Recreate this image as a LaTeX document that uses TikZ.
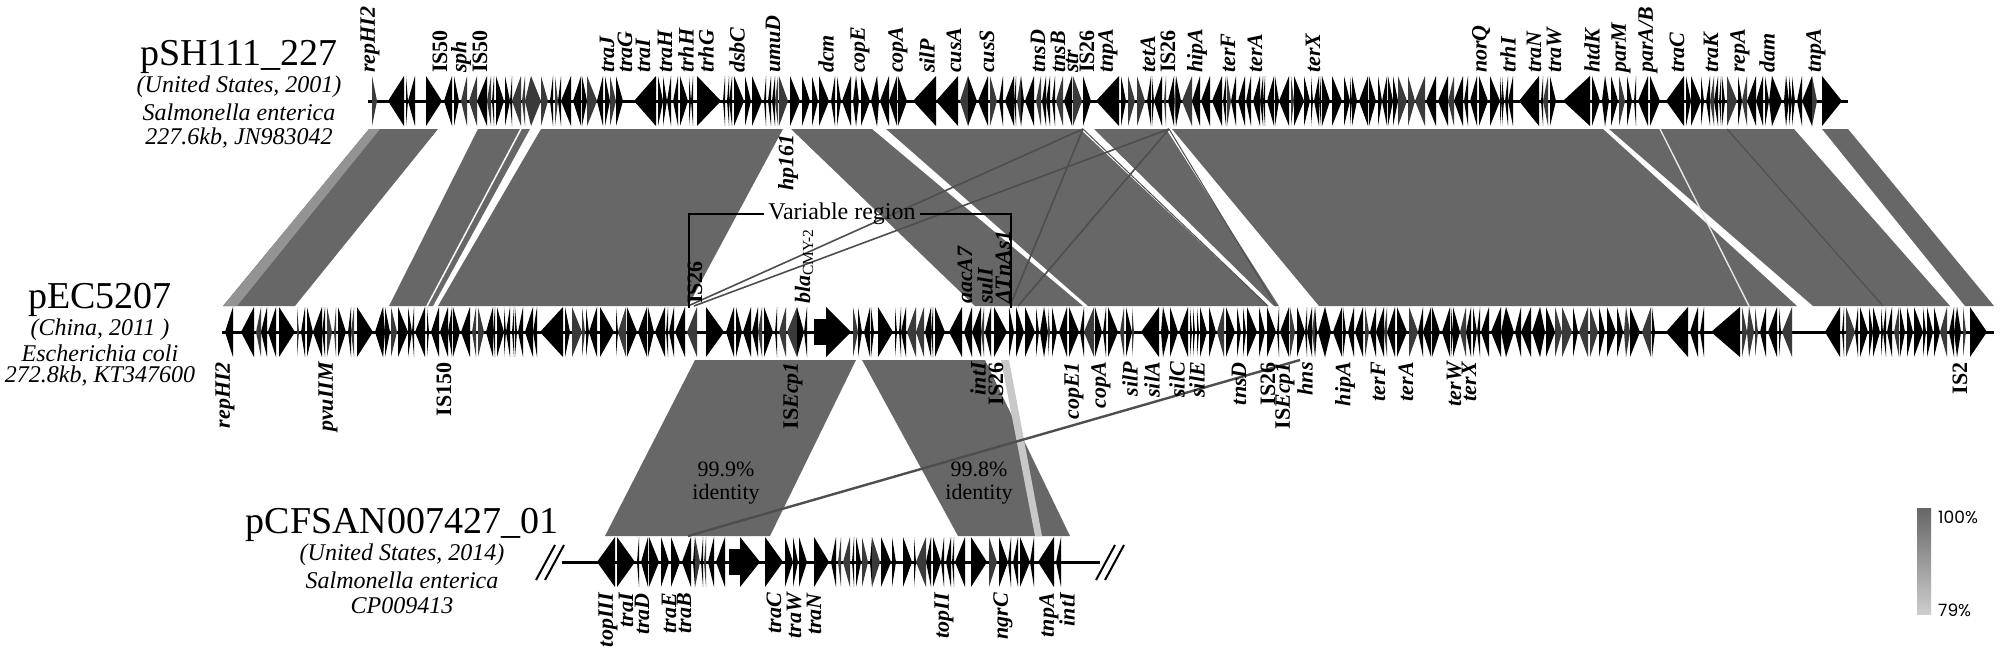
\documentclass[tikz,border=0pt]{standalone}
\usepackage{fontspec}
\setmainfont{Liberation Serif}
\newfontfamily\legendfont{Poppins}
\definecolor{bandc}{HTML}{676767}
\definecolor{bandlight}{HTML}{939393}
\definecolor{stripc}{HTML}{C8C8C8}
\definecolor{xlc}{HTML}{4E4E4E}
\definecolor{legtop}{HTML}{666666}
\definecolor{legbot}{HTML}{CDCDCD}
\definecolor{genegray}{HTML}{3A3A3A}
\newdimen\gspx
\newdimen\gspe
\newcommand\genespikes[4]{%
  \pgfmathsetseed{#4}%
  \gspx=#2pt\relax
  \loop
    \pgfmathrandominteger{\gspw}{2}{10}%
    \pgfmathrandominteger{\gspd}{0}{1}%
    \pgfmathrandominteger{\gspg}{0}{2}%
    \pgfmathrandominteger{\gspc}{0}{4}%
    \gspe=\gspx\advance\gspe by \gspw pt\relax
  \ifdim\gspe<#3pt\relax
    \pgfmathsetmacro\gxa{\gspx}%
    \pgfmathsetmacro\gxb{\gspe}%
    \ifnum\gspc=0\relax\def\gcol{genegray}\else\def\gcol{black}\fi
    \ifnum\gspd=1\relax
      \fill[\gcol] (\gxa,#1-25) -- (\gxb,#1) -- (\gxa,#1+25) -- cycle;
    \else
      \fill[\gcol] (\gxb,#1-25) -- (\gxa,#1) -- (\gxb,#1+25) -- cycle;
    \fi
    \gspx=\gspe\advance\gspx by \gspg pt\relax
  \repeat}
\newcommand\garR[3]{\fill[gene] (#2,#1-25) -- (#3,#1) -- (#2,#1+25) -- cycle;}
\newcommand\garL[3]{\fill[gene] (#3,#1-25) -- (#2,#1) -- (#3,#1+25) -- cycle;}
\newcommand\gblock[4]{\fill[gene] (#2,#1-13) rectangle (#3+2,#1+13); \fill[gene] (#3,#1-25) -- (#4,#1) -- (#3,#1+25) -- cycle;}
\newcommand\bandTM[4]{\fill[bandc] (#1,129) -- (#2,129) -- (#4,306) -- (#3,306) -- cycle;}
\newcommand\bandMB[4]{\fill[bandc] (#1,360) -- (#2,360) -- (#4,536) -- (#3,536) -- cycle;}
\begin{document}
\begin{tikzpicture}[x=1pt,y=-1pt,
  gene/.style={fill=black},
  axisline/.style={draw=black,line width=3pt},
  xl/.style={draw=xlc,line width=1.6pt},
  glab/.style={font=\fontsize{22}{22}\selectfont\bfseries\itshape,rotate=90,inner sep=0pt},
  tlab/.style={glab,anchor=west},
  blab/.style={glab,anchor=east},
  ttl/.style={font=\fontsize{38}{38}\selectfont,inner sep=0pt},
  sub/.style={font=\fontsize{24}{24}\selectfont\itshape,inner sep=0pt},
  idl/.style={font=\fontsize{22}{23}\selectfont,align=center,inner sep=0pt},
  leg/.style={font=\legendfont\fontsize{17}{17}\selectfont,inner sep=0pt,anchor=west}]
\useasboundingbox (0,0) rectangle (2000,653);
\fill[white] (0,0) rectangle (2000,653);

% ---------- bands between top and middle ----------
\bandTM{369}{438}{223}{295}
\fill[bandlight] (369,129) -- (380,129) -- (237,306) -- (223,306) -- cycle;
\bandTM{478}{530}{389}{433}
\draw[white,line width=1.5pt] (521,129) -- (427,306);
\bandTM{541}{783}{438}{688}
\bandTM{791}{872}{975}{1083}
\bandTM{886}{1080}{1088}{1268}
\bandTM{1094}{1166}{1274}{1279}
\bandTM{1172}{1603}{1319}{1797}
\bandTM{1609}{1794}{1813}{1950}
\bandTM{1822}{1848}{1965}{1994}
\draw[white!80!gray,line width=1.4pt] (1660,129) -- (1749,306);
\draw[xlc,line width=1pt] (1727,129) -- (1883,306);
\draw[xl] (688,306) -- (1083,129);
\draw[xl] (694,306) -- (1169,129);
\draw[xl] (1010,306) -- (1083,129);
\draw[xl] (1018,306) -- (1169,129);
\draw[xl,line width=1pt] (1083,129) -- (1268,306);
\draw[xl,line width=1pt] (1169,129) -- (1276,306);

% ---------- bands between middle and bottom ----------
\bandMB{695}{856}{605}{770}
\bandMB{862}{985}{958}{1070}
\fill[stripc] (1001,360) -- (1009,360) -- (1042,536) -- (1035,536) -- cycle;
\draw[xl,line width=2.4pt] (688,536) -- (1300,360);

% ---------- top track ----------
\draw[axisline] (368,101) -- (1848,101);
\genespikes{101}{372}{386}{11}\garL{101}{388}{404}
\genespikes{101}{406}{424}{12}\garR{101}{426}{442}
\genespikes{101}{444}{632}{13}\garL{101}{634}{656}
\genespikes{101}{658}{695}{14}\garR{101}{697}{721}
\genespikes{101}{723}{911}{15}\garL{101}{913}{936}\garL{101}{936}{958}
\genespikes{101}{960}{1094}{16}\garL{101}{1096}{1119}
\genespikes{101}{1121}{1517}{17}\garL{101}{1519}{1539}
\genespikes{101}{1541}{1561}{18}\garL{101}{1563}{1590}
\genespikes{101}{1592}{1664}{19}\garL{101}{1666}{1684}
\genespikes{101}{1686}{1820}{20}\garR{101}{1822}{1842}

% ---------- middle track ----------
\draw[axisline] (222,332) -- (1994,332);
\genespikes{332}{225}{239}{31}\garL{332}{241}{254}
\genespikes{332}{256}{277}{32}\garR{332}{279}{295}
\genespikes{332}{297}{355}{33}\garR{332}{357}{373}
\genespikes{332}{375}{538}{34}\garL{332}{540}{563}
\genespikes{332}{565}{598}{35}\garR{332}{600}{614}
\genespikes{332}{616}{704}{36}\garR{332}{706}{724}
\genespikes{332}{726}{812}{37}\gblock{332}{814}{826}{851}
\genespikes{332}{853}{876}{38}\garR{332}{878}{893}
\genespikes{332}{895}{947}{39}\garL{332}{949}{962}
\genespikes{332}{964}{992}{40}\garR{332}{994}{1007}
\genespikes{332}{1009}{1139}{41}\garL{332}{1141}{1159}
\genespikes{332}{1161}{1664}{42}\garL{332}{1666}{1688}
\genespikes{332}{1690}{1709}{43}\garL{332}{1711}{1740}
\genespikes{332}{1742}{1798}{44}\garL{332}{1825}{1840}
\genespikes{332}{1842}{1968}{45}\garR{332}{1970}{1987}

% ---------- bottom track ----------
\draw[axisline] (562,562) -- (1100,562);
\draw[black,line width=2pt] (536,580) -- (555,545);
\draw[black,line width=2pt] (545,580) -- (564,545);
\draw[black,line width=2pt] (1096,580) -- (1115,545);
\draw[black,line width=2pt] (1105,580) -- (1124,545);
\garL{562}{597}{615}\garR{562}{617}{635}
\genespikes{562}{637}{727}{51}\gblock{562}{729}{740}{760}
\garR{562}{765}{783}
\genespikes{562}{785}{812}{52}\garR{562}{814}{829}
\genespikes{562}{831}{901}{53}\garR{562}{903}{912}
\genespikes{562}{914}{969}{54}\garR{562}{971}{987}
\genespikes{562}{989}{1036}{55}\garL{562}{1038}{1054}
\genespikes{562}{1056}{1068}{56}

% ---------- gene labels ----------
\foreach \x/\t [count=\i] in {370/repHI2,440/{\upshape IS50},461/sph,480/{\upshape IS50},607/traJ,625/traG,643/traI,665/traH,686/trhH,706/trhG,737/dsbC,773/umuD,826/dcm,860/copE,898/copA,927/silP,954/cusA,987/cusS,1038/tnsD,1058/tnsB,1072/str,1087/{\upshape IS26},1108/tnpA,1148/tetA,1168/{\upshape IS26},1197/hipA,1228/terF,1255/terA,1313/terX,1481/norQ,1508/trhI,1534/traN,1554/traW,1592/htdK,1621/parM,1648/{parA/B},1677/traC,1711/traK,1740/repA,1767/dam,1816/tnpA}
  \node[tlab] (tl\i) at (\x,73) {\t};
\foreach \x/\t [count=\i] in {225/repHI2,328/pvuIIM,444/{\upshape IS150},793/{\upshape IS}Ecp1,978/intI,996/{\upshape IS26},1074/copE1,1101/copA,1130/silP,1152/silA,1177/silC,1197/silE,1239/tnsD,1268/{\upshape IS26},1285/{\upshape IS}Ecp1,1305/hns,1345/hipA,1378/terF,1406/terA,1454/terW,1469/terX,1960/{\upshape IS2}}
  \node[blab] (ml\i) at (\x,362) {\t};
\foreach \x/\t [count=\i] in {695/{\upshape IS26},965/aacA7,985/sulI,1003/ΔTnAs1}
  \node[tlab] (ma\i) at (\x,304) {\t};
\node[tlab] (bla) at (804,304) {bla\textsubscript{\upshape\mdseries CMY-2}};
\node[blab] (hp) at (788,134) {hp161};
\foreach \x/\t [count=\i] in {608/topIII,626/traI,642/traD,669/traE,684/traB,774/traC,794/traW,814/traN,944/topII,1003/ngrC,1049/tnpA,1067/intI}
  \node[blab] (bl\i) at (\x,593) {\t};

% ---------- variable region ----------
\node[font=\fontsize{24}{24}\selectfont,inner sep=4pt] (vr) at (842,214) {Variable region};
\draw[black,line width=1.4pt] (vr.west) -- (689,214) -- (689,308);
\draw[black,line width=1.4pt] (vr.east) -- (1011,214) -- (1011,308);

% ---------- identity labels ----------
\node[idl] (id1) at (726,483) {99.9\%\\identity};
\node[idl] (id2) at (979,483) {99.8\%\\identity};

% ---------- plasmid names ----------
\node[ttl] (p1) at (239,57) {pSH111\_227};
\node[sub] (p1a) at (239,87) {(United States, 2001)};
\node[sub] (p1b) at (239,112) {Salmonella enterica};
\node[sub] (p1c) at (239,138) {227.6kb, JN983042};
\node[ttl] (p2) at (100,300) {pEC5207};
\node[sub] (p2a) at (100,330) {(China, 2011 )};
\node[sub] (p2b) at (100,353) {Escherichia coli};
\node[sub] (p2c) at (100,376) {272.8kb, KT347600};
\node[ttl] (p3) at (402,525) {pCFSAN007427\_01};
\node[sub] (p3a) at (402,555) {(United States, 2014)};
\node[sub] (p3b) at (402,580) {Salmonella enterica};
\node[sub] (p3c) at (402,606) {CP009413};

% ---------- legend ----------
\shade[top color=legtop,bottom color=legbot] (1917,508) rectangle (1931,614);
\node[leg] (l100) at (1938,517) {100\%};
\node[leg] (l79) at (1938,610) {79\%};
\end{tikzpicture}
\end{document}
